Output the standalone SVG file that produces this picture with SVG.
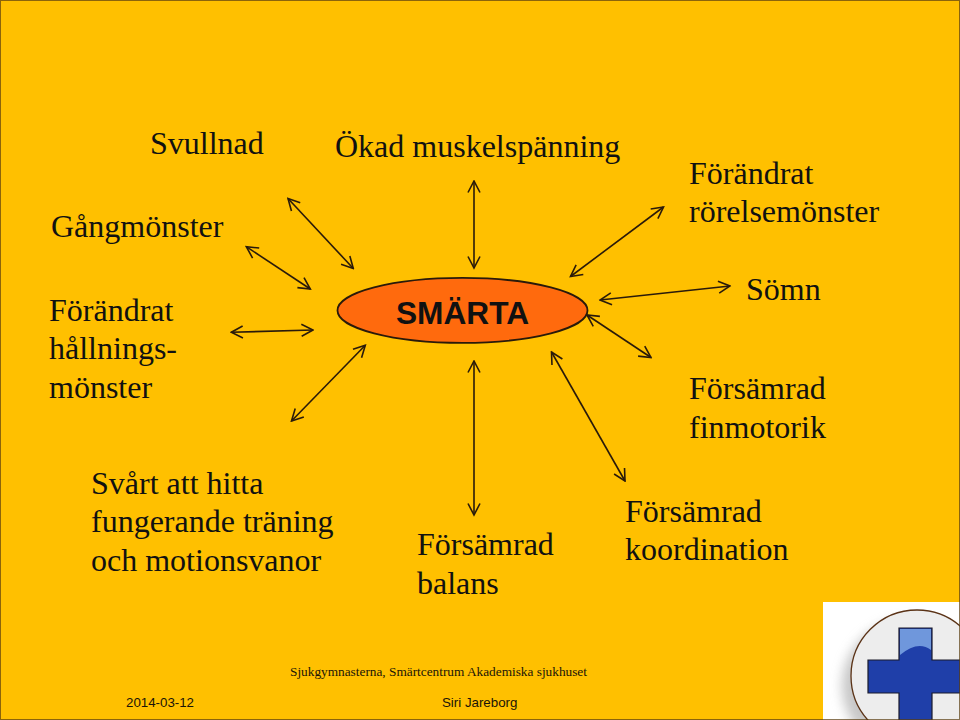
<svg xmlns="http://www.w3.org/2000/svg" width="960" height="720" viewBox="0 0 960 720">
<style>
.t{font-family:"Liberation Serif","Times New Roman",serif;font-size:32px;fill:#111}
.f{font-family:"Liberation Sans",Arial,sans-serif;font-size:13.300px;fill:#1a1408}
.c{fill:none;stroke:#2a1a0a;stroke-width:1.600;marker-start:url(#a);marker-end:url(#a)}
</style>
<defs>
<marker id="a" viewBox="0 0 16 16" refX="14.500" refY="8" markerWidth="16" markerHeight="16" markerUnits="userSpaceOnUse" orient="auto-start-reverse"><path d="M3 2L14.500 8L3 14" fill="none" stroke="#2a1a0a" stroke-width="1.600"/></marker>
<filter id="b" x="-20%" y="-20%" width="140%" height="140%"><feGaussianBlur stdDeviation="6"/></filter>
<clipPath id="bc"><rect x="823" y="602" width="137" height="118"/></clipPath>
</defs>
<rect width="960" height="720" fill="#ffc000"/>
<g id="connectors">
<line class="c" x1="288" y1="198.500" x2="353.300" y2="268.500"/>
<line class="c" x1="246.300" y1="246.700" x2="310.300" y2="289"/>
<line class="c" x1="231.300" y1="332.300" x2="313" y2="330"/>
<line class="c" x1="365.300" y1="345.300" x2="291.500" y2="421"/>
<line class="c" x1="474" y1="181" x2="474" y2="268"/>
<line class="c" x1="570.500" y1="276.500" x2="663.500" y2="207"/>
<line class="c" x1="600" y1="300" x2="730" y2="286"/>
<line class="c" x1="587" y1="315" x2="651" y2="357.500"/>
<line class="c" x1="551.500" y1="352" x2="625" y2="481"/>
<line class="c" x1="474" y1="361" x2="474" y2="515"/>
</g>
<g id="center"><ellipse cx="462.500" cy="310.400" rx="125" ry="32.500" fill="#ff6a0d" stroke="#2a1a0a" stroke-width="1.800"/>
<text x="462.500" y="324" text-anchor="middle" font-family="'Liberation Sans',Arial,sans-serif" font-weight="700" font-size="32" textLength="133" lengthAdjust="spacingAndGlyphs" fill="#111">SMÄRTA</text></g>
<g id="n1"><text class="t" x="150" y="154">Svullnad</text></g>
<g id="n2"><text class="t" x="335" y="157">Ökad muskelspänning</text></g>
<g id="n3"><text class="t" x="689" y="184">Förändrat</text><text class="t" x="689" y="222">rörelsemönster</text></g>
<g id="n4"><text class="t" x="51" y="237">Gångmönster</text></g>
<g id="n5"><text class="t" x="49" y="321">Förändrat</text><text class="t" x="49" y="359">hållnings-</text><text class="t" x="49" y="398">mönster</text></g>
<g id="n6"><text class="t" x="746" y="300">Sömn</text></g>
<g id="n7"><text class="t" x="689" y="399">Försämrad</text><text class="t" x="689" y="438">finmotorik</text></g>
<g id="n8"><text class="t" x="91" y="494">Svårt att hitta</text><text class="t" x="91" y="532">fungerande träning</text><text class="t" x="91" y="571">och motionsvanor</text></g>
<g id="n9"><text class="t" x="417" y="555">Försämrad</text><text class="t" x="417" y="594">balans</text></g>
<g id="n10"><text class="t" x="625" y="522">Försämrad</text><text class="t" x="625" y="560">koordination</text></g>
<g id="logo" clip-path="url(#bc)">
<rect x="823" y="602" width="137" height="118" fill="#fff"/>
<circle cx="908" cy="686" r="66" fill="#999" opacity="0.55" filter="url(#b)"/>
<circle cx="917" cy="676" r="66" fill="#ededed" stroke="#5a3216" stroke-width="1.300"/>
<path d="M899 628H932V660H962V693H932V722H899V693H868V660H899Z" fill="#1f3fa9" stroke="#1a1a2a" stroke-width="1.200"/>
<path d="M900 629H931V650Q918 640 900 655Z" fill="#6f97dc"/>
</g>
<g id="footer">
<text x="438.500" y="676" text-anchor="middle" font-family="'Liberation Serif',serif" font-size="13.300" fill="#1a1408">Sjukgymnasterna, Smärtcentrum Akademiska sjukhuset</text>
<text class="f" x="126" y="707">2014-03-12</text>
<text class="f" x="442" y="707">Siri Jareborg</text>
</g>
<rect id="frame" x="0.500" y="0.500" width="959" height="719" fill="none" stroke="#5a3d10" stroke-width="1" opacity="0.7"/>
</svg>
